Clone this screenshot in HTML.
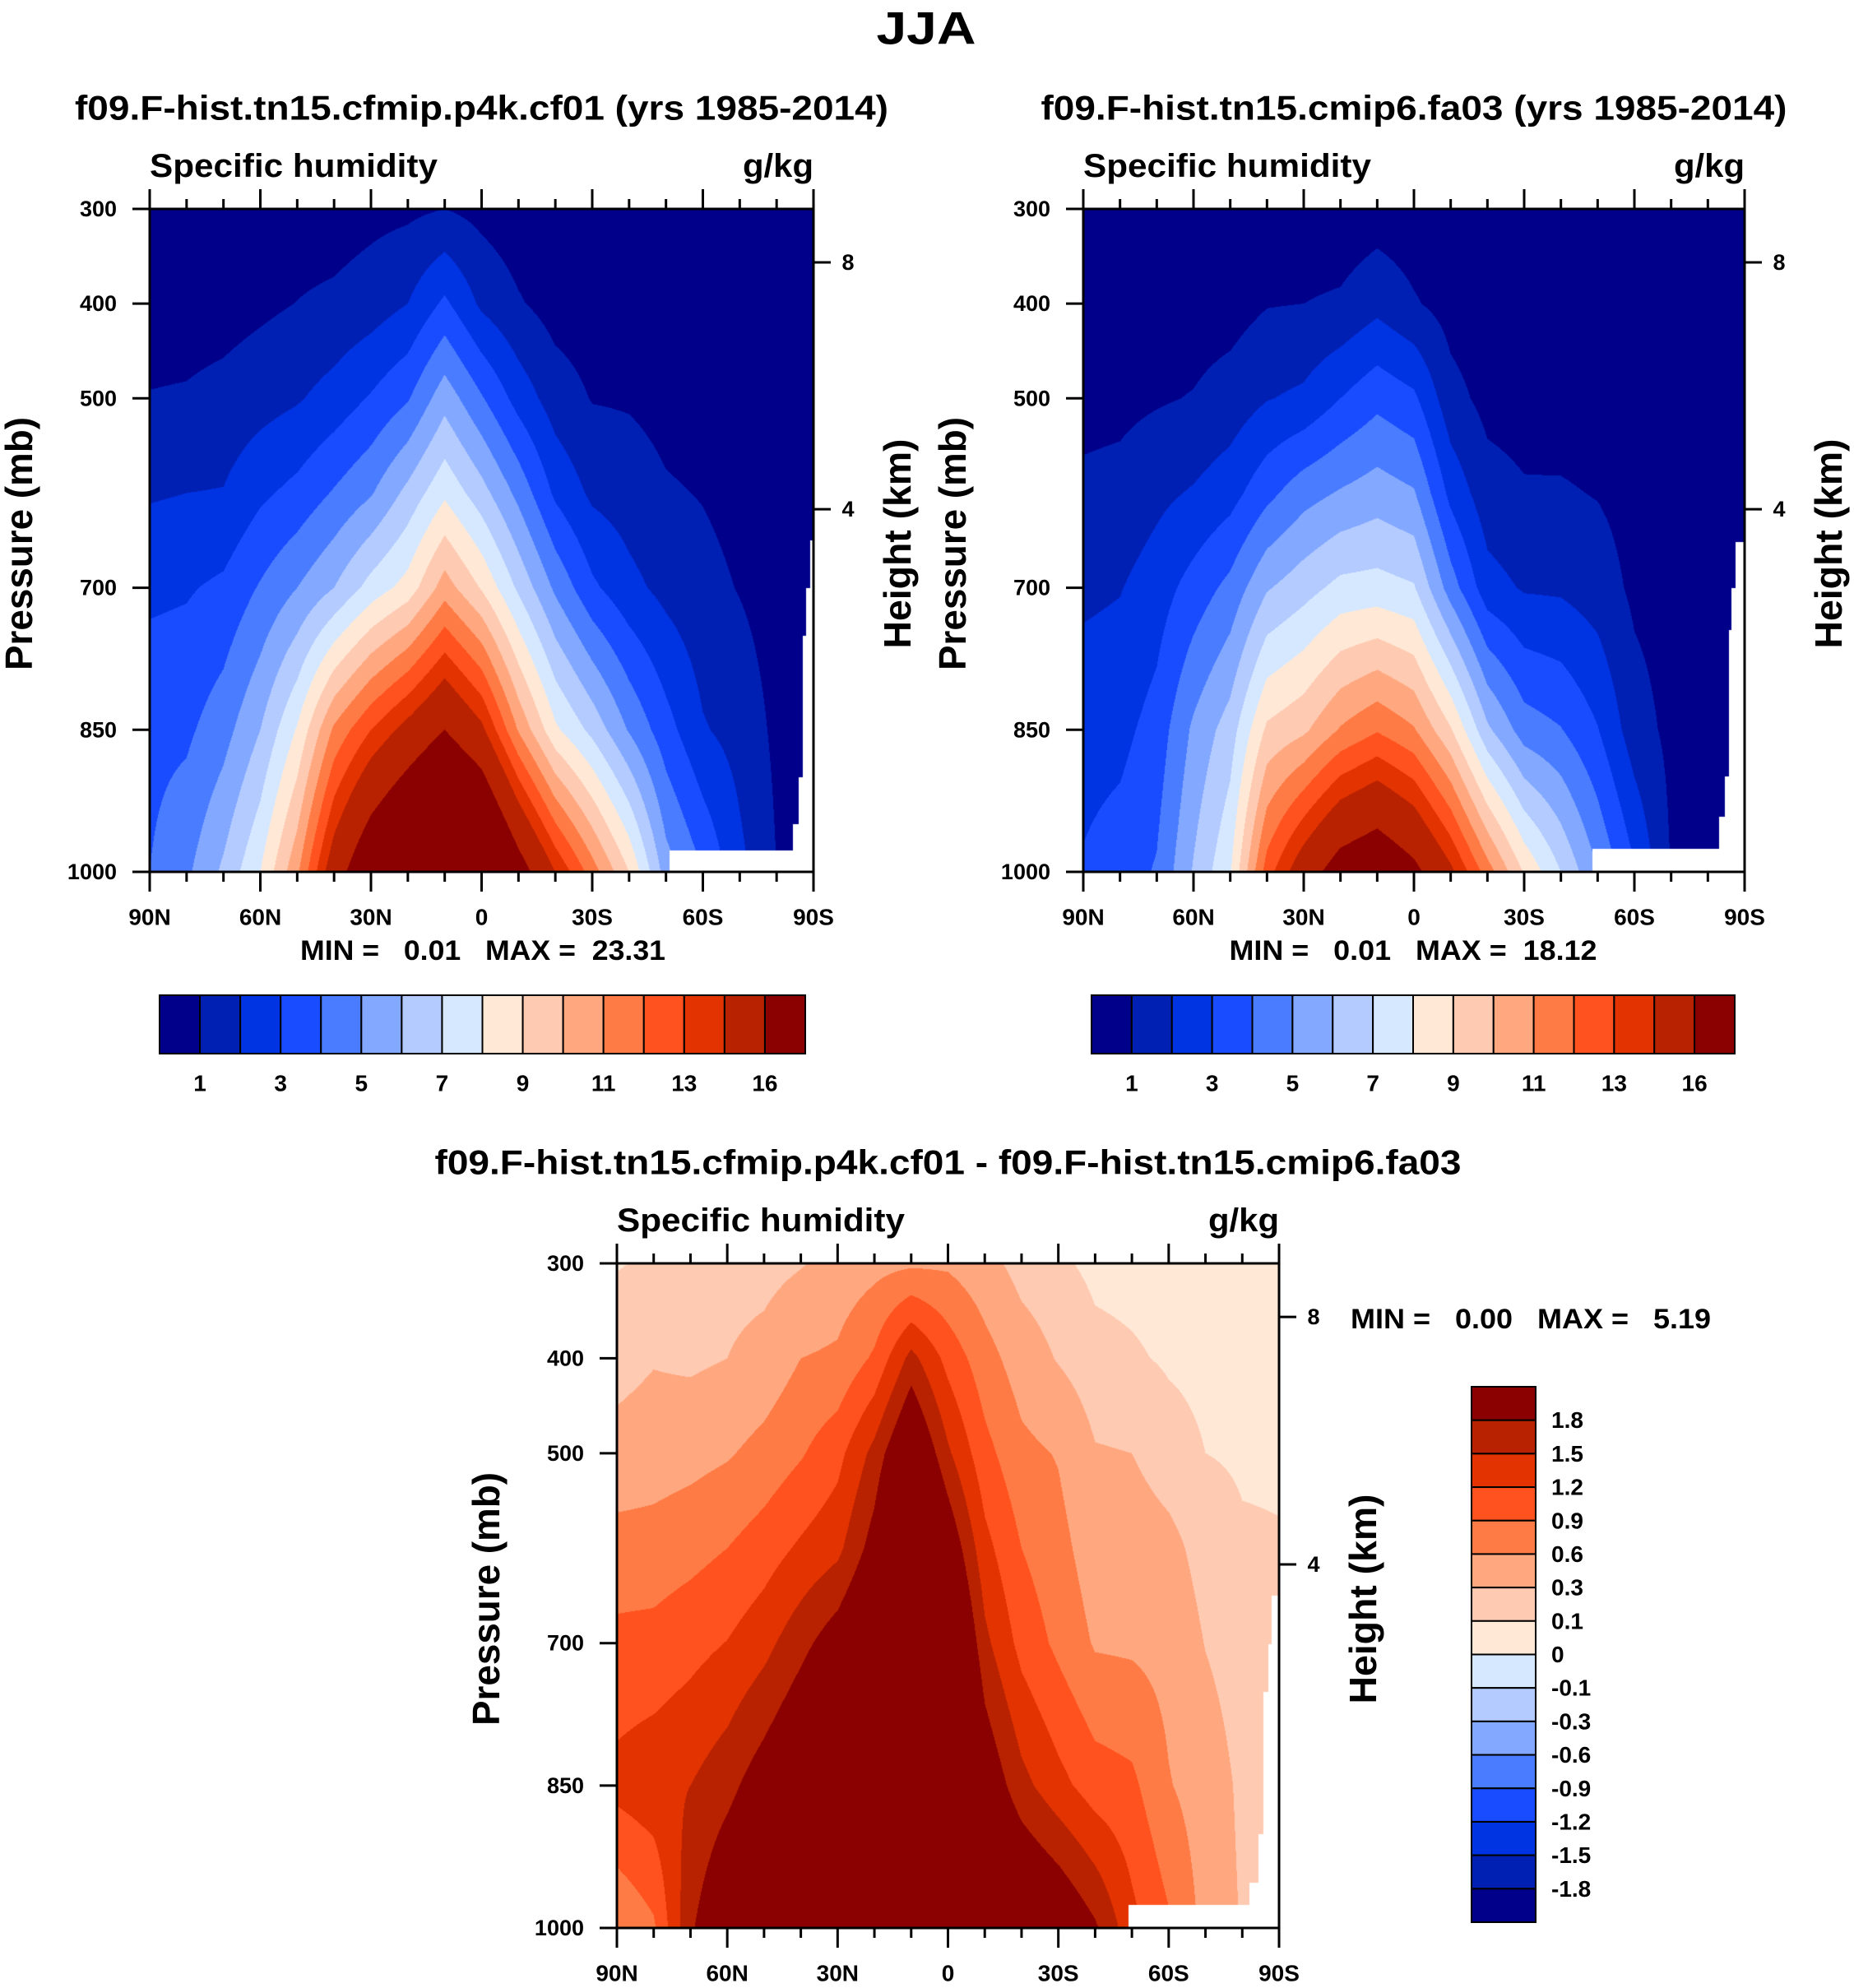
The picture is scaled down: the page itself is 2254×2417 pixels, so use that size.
<!DOCTYPE html>
<html><head><meta charset="utf-8">
<style>
html,body{margin:0;padding:0;background:#fff;}
#root{position:relative;width:2254px;height:2417px;overflow:hidden;background:#fff;}
canvas{position:absolute;}
svg{position:absolute;left:0;top:0;}
text{font-family:"Liberation Sans",sans-serif;font-weight:bold;fill:#000;white-space:pre;}
</style></head>
<body>
<div id="root">
<canvas id="cL"></canvas>
<canvas id="cR"></canvas>
<canvas id="cD"></canvas>
<svg id="ov" width="2254" height="2417"></svg>
</div>
<script>
// ---- data ----
const lats = [90,80,70,60,50,40,30,20,10,0,-10,-20,-30,-40,-50,-60,-70,-80,-90];
const pres = [300,400,500,600,700,850,1000];
// cf01 specific humidity (g/kg), rows per latitude, columns per pressure
const qCf01 = [
[0.3,0.5,1.05,1.9,2.8,3.7,4.0],
[0.3,0.55,1.1,2.0,2.9,3.8,4.8],
[0.35,0.6,1.3,2.05,3.2,4.6,6.2],
[0.4,0.8,1.6,2.8,4.1,6.0,8.0],
[0.5,1.02,1.9,3.3,5.0,8.1,10.8],
[0.5,1.2,2.4,4.1,6.0,11.2,15],
[0.7,1.5,3.1,4.9,7.4,13,18],
[0.8,2.0,3.9,6.3,8.4,14.5,20],
[1.0,3.2,5.6,7.8,10.5,16,22],
[0.7,1.8,4.1,6.4,8.9,14.3,20.5],
[0.4,1.1,2.6,4.7,6.8,10.9,17],
[0.3,0.6,1.5,2.8,4.8,8.2,14],
[0.25,0.5,0.95,1.8,3.2,6.7,11.5],
[0.2,0.45,0.9,1.5,2.3,4.9,9],
[0.15,0.35,0.7,1.1,1.7,3.4,5.5],
[0.1,0.3,0.6,0.95,1.3,2.1,4],
[0.1,0.25,0.5,0.7,0.95,1.6,2.3],
[0.1,0.2,0.3,0.5,0.6,0.8,1.0],
[0.1,0.15,0.25,0.4,0.5,0.6,0.7]];
// fa03 specific humidity (g/kg)
const qFa03 = [
[0.2,0.4,0.7,1.2,1.8,2.6,3.1],
[0.2,0.4,0.75,1.3,1.95,2.7,3.5],
[0.2,0.45,0.9,1.75,2.5,3.4,4.1],
[0.25,0.55,1.05,2.1,3.4,5.2,6.1],
[0.3,0.6,1.4,2.6,4.3,6.5,7.9],
[0.3,0.95,1.95,3.7,5.9,9.2,12.5],
[0.35,1.0,2.2,4.6,6.6,9.8,15],
[0.3,1.15,3.0,5.1,7.3,11.1,17],
[0.5,1.7,3.7,5.5,7.4,11.9,17.8],
[0.4,1.1,3.2,5.1,7.1,11.1,16.5],
[0.3,0.6,1.35,2.7,4.5,9.1,14.3],
[0.2,0.4,0.7,1.4,2.4,6.2,11.5],
[0.2,0.35,0.6,1.1,1.9,4.5,8.9],
[0.15,0.3,0.55,1.1,1.85,4.05,7],
[0.15,0.3,0.5,0.95,1.5,3.05,5],
[0.1,0.2,0.4,0.65,0.8,1.45,3.1],
[0.1,0.15,0.3,0.5,0.6,0.75,0.95],
[0.1,0.1,0.2,0.3,0.4,0.5,0.5],
[0.1,0.1,0.15,0.25,0.3,0.4,0.4]];
// difference cf01 - fa03 (g/kg)
const qDiff = [
[0.09,0.2,0.4,0.72,0.98,1.3,0.6],
[0.12,0.28,0.45,0.73,1.0,1.4,0.85],
[0.15,0.25,0.5,0.8,1.1,1.5,1.75],
[0.2,0.3,0.57,0.9,1.21,1.7,2.2],
[0.2,0.4,0.7,1.05,1.4,2.0,2.4],
[0.28,0.6,0.87,1.25,1.7,2.3,2.7],
[0.4,0.65,1.1,1.42,2.0,2.6,3.0],
[0.5,0.95,1.6,1.95,2.4,3.0,3.3],
[0.55,1.6,2.3,2.9,3.5,4.5,5.0],
[0.55,1.1,1.55,2.1,2.6,3.2,3.4],
[0.4,0.72,1.0,1.3,1.58,2.1,2.6],
[0.2,0.45,0.68,0.9,1.1,1.6,2.4],
[0.13,0.28,0.58,0.7,0.83,1.3,2.2],
[0.06,0.15,0.32,0.44,0.57,1.05,1.85],
[0.05,0.12,0.3,0.45,0.55,0.97,1.3],
[0.04,0.08,0.17,0.38,0.5,0.62,0.95],
[0.03,0.06,0.1,0.2,0.29,0.45,0.5],
[0.02,0.05,0.08,0.12,0.18,0.25,0.28],
[0.02,0.04,0.08,0.11,0.15,0.2,0.2]];
const levelsQ = [1,2,3,4,5,6,7,8,9,10,11,12,13,14,16];
const levelsD = [-1.8,-1.5,-1.2,-0.9,-0.6,-0.3,-0.1,0,0.1,0.3,0.6,0.9,1.2,1.5,1.8];
const labelsQ = ["1","3","5","7","9","11","13","16"];
const labelsD = ["1.8","1.5","1.2","0.9","0.6","0.3","0.1","0","-0.1","-0.3","-0.6","-0.9","-1.2","-1.5","-1.8"];
const presTicks = [300,400,500,700,850,1000];
const latTicks = ["90N","60N","30N","0","30S","60S","90S"];
const heightTicks = [{km:"8",frac:0.0806},{km:"4",frac:0.453}];
const colors = ["#00008a","#0020b4","#0033e2","#1a4cff","#4a7cff","#83a8ff","#b3cbff","#d6e8ff",
"#ffe8d6","#ffcab2","#ffa880","#ff7b45","#ff521e","#e33300","#b82200","#8b0000"];
// missing-data (topography) masks
const maskL = [[141,977],[174.5,950],[176,900],[177,751],[178,700],[179,650]];
const maskR = [[138.5,976],[173,942],[174.7,899],[175.7,745],[176.5,700],[177.5,652]];
const maskD = [[139,976],[172,952],[174.5,901],[175.7,751],[177,701],[178,650]];

function hex(c){return [parseInt(c.substr(1,2),16),parseInt(c.substr(3,2),16),parseInt(c.substr(5,2),16)];}
const rgb = colors.map(hex);

function val(grid,t,p){
  let i=Math.min(17,Math.floor(t/10)); let fx=(t-i*10)/10;
  let j=0; while(j<pres.length-2 && p>pres[j+1]) j++;
  let fy=(p-pres[j])/(pres[j+1]-pres[j]);
  const a=grid[i][j],b=grid[i+1][j],c=grid[i][j+1],d=grid[i+1][j+1];
  return (a*(1-fx)+b*fx)*(1-fy)+(c*(1-fx)+d*fx)*fy;
}
function drawField(id,x0,y0,x1,y1,grid,levels,mask){
  const cv=document.getElementById(id); const w=x1-x0,h=y1-y0;
  cv.width=w;cv.height=h;cv.style.left=x0+'px';cv.style.top=y0+'px';
  const ctx=cv.getContext('2d'); const im=ctx.createImageData(w,h);
  for(let py=0;py<h;py++){
    const p=300+(py+0.5)/h*700;
    for(let px=0;px<w;px++){
      const t=(px+0.5)/w*180; const k=(py*w+px)*4;
      let masked=false;
      for(const m of mask){ if(t>m[0]&&p>m[1]) {masked=true;} }
      if(masked){im.data[k]=255;im.data[k+1]=255;im.data[k+2]=255;im.data[k+3]=255;continue;}
      const v=val(grid,t,p); let n=0; while(n<levels.length&&v>=levels[n]) n++;
      const c=rgb[n]; im.data[k]=c[0];im.data[k+1]=c[1];im.data[k+2]=c[2];im.data[k+3]=255;
    }
  }
  ctx.putImageData(im,0,0);
}
const plots=[
 {id:'cL',x0:182,y0:254,x1:989,y1:1060,grid:qCf01,lev:levelsQ,mask:maskL,pfx:'left'},
 {id:'cR',x0:1317,y0:254,x1:2121,y1:1060,grid:qFa03,lev:levelsQ,mask:maskR,pfx:'right'},
 {id:'cD',x0:750,y0:1536,x1:1555,y1:2344,grid:qDiff,lev:levelsD,mask:maskD,pfx:'diff'}];
plots.forEach(P=>drawField(P.id,P.x0,P.y0,P.x1,P.y1,P.grid,P.lev,P.mask));

// ---- overlay ----
const NS='http://www.w3.org/2000/svg'; const svg=document.getElementById('ov');
function el(tag,attrs,parent){const e=document.createElementNS(NS,tag);for(const k in attrs)e.setAttribute(k,attrs[k]);(parent||svg).appendChild(e);return e;}
function txt(s,x,y,size,anchor,len,parent,rot){
  const a={x:x,y:y,'font-size':size,'text-anchor':anchor||'middle','dominant-baseline':'central'};
  if(len){a.textLength=len;a.lengthAdjust='spacingAndGlyphs';}
  if(rot){a.transform='rotate(-90 '+x+' '+y+')';}
  const e=el('text',a,parent); e.textContent=s; return e;
}
let t;
t=txt('JJA',1126,34,56,'middle',121);



function axes(P,title,titleLen,minmax,mmX,mmY,mmAnchor,mmLen){
  const g=el('g',{});
  
  
  const W=P.x1-P.x0,H=P.y1-P.y0,cx=(P.x0+P.x1)/2;
  const X=d=>P.x0+d/180*W; const Y=p=>P.y0+(p-300)/700*H;
  el('rect',{x:P.x0,y:P.y0,width:W,height:H,fill:'none',stroke:'#000','stroke-width':3},g);
  for(let d=0;d<=180;d+=10){
    const L=(d%30===0)?24:12;
    el('line',{x1:X(d),x2:X(d),y1:P.y1,y2:P.y1+L,stroke:'#000','stroke-width':3},g);
    el('line',{x1:X(d),x2:X(d),y1:P.y0,y2:P.y0-L,stroke:'#000','stroke-width':3},g);
  }
  latTicks.forEach((s,i)=>{const e=txt(s,X(i*30),P.y1+55,28,'middle',null,g);
    
    });
  presTicks.forEach(p=>{
    el('line',{x1:P.x0-21,x2:P.x0,y1:Y(p),y2:Y(p),stroke:'#000','stroke-width':3},g);
    const e=txt(String(p),P.x0-40,Y(p),27,'end',null,g);
    
    
  });
  heightTicks.forEach(h=>{
    const y=P.y0+h.frac*H;
    el('line',{x1:P.x1,x2:P.x1+21,y1:y,y2:y,stroke:'#000','stroke-width':3},g);
    const e=txt(h.km,P.x1+42,y,27,'middle',null,g);
    
    
  });
  let e=txt('Specific humidity',P.x0,P.y0-52,40,'start',350,g);
  
  
  e=txt('g/kg',P.x1,P.y0-52,40,'end',86,g);
  
  
  e=txt(title.s,cx,title.y,42,'middle',titleLen,g);
  
  
  e=txt('Pressure (mb)',P.x0-159,(P.y0+P.y1)/2+4,46,'middle',308,g,true);
  
  
  e=txt('Height (km)',P.x1+102,(P.y0+P.y1)/2+4,46,'middle',255,g,true);
  
  
  e=txt(minmax,mmX,mmY,34,mmAnchor,mmLen,g);
  e.setAttribute('xml:space','preserve');
  
  
}
axes(plots[0],{s:'f09.F-hist.tn15.cfmip.p4k.cf01 (yrs 1985-2014)',y:131},989,'MIN =   0.01   MAX =  23.31',587,1156,'middle',444);
axes(plots[1],{s:'f09.F-hist.tn15.cmip6.fa03 (yrs 1985-2014)',y:131},907,'MIN =   0.01   MAX =  18.12',1718,1156,'middle',447);
axes(plots[2],{s:'f09.F-hist.tn15.cfmip.p4k.cf01 - f09.F-hist.tn15.cmip6.fa03',y:1413},1248,'MIN =   0.00   MAX =   5.19',1642,1604,'start',438);

function hbar(x0,x1,y0,y1,pfx){
  const g=el('g',{});
  
  
  const bw=(x1-x0)/colors.length;
  colors.forEach((c,i)=>{
    const r=el('rect',{x:x0+i*bw,y:y0,width:bw,height:y1-y0,fill:c,stroke:'#000','stroke-width':2},g);
    
    
  });
  labelsQ.forEach((s,i)=>{const e=txt(s,x0+(2*i+1)*bw,y1+36,28,'middle',null,g);
    
    });
}
hbar(194,979,1210,1281,'left');
hbar(1327,2109,1210,1281,'right');
(function(){
  const x0=1789,x1=1867,y0=1686,y1=2337;
  const g=el('g',{});
  
  
  const bh=(y1-y0)/colors.length;
  colors.slice().reverse().forEach((c,i)=>{
    const r=el('rect',{x:x0,y:y0+i*bh,width:x1-x0,height:bh,fill:c,stroke:'#000','stroke-width':2},g);
    
    
  });
  labelsD.forEach((s,i)=>{const e=txt(s,x1+19,y0+(i+1)*bh,28,'start',null,g);
    
    });
})();
</script>
</body></html>
